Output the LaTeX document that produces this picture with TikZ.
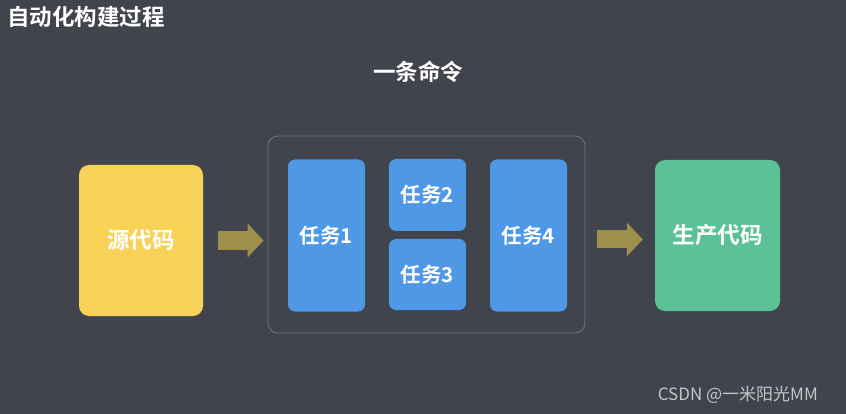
\documentclass[tikz,border=0pt]{standalone}
\usepackage{fontspec}
\setmainfont{Noto Sans CJK SC}[BoldFont={Noto Sans CJK SC Bold}]
\usepackage{tikz}
\usetikzlibrary{arrows.meta}

\definecolor{bgcol}{HTML}{41444C}
\definecolor{srccol}{HTML}{F8D157}
\definecolor{taskcol}{HTML}{4F98E6}
\definecolor{outcol}{HTML}{5BC196}
\definecolor{arrowcol}{HTML}{9D904A}
\definecolor{framecol}{HTML}{74767C}
\definecolor{markcol}{HTML}{C4C5C8}

\begin{document}
\begin{tikzpicture}[
		x=1pt, y=-1pt,
		every node/.style={text=white, font=\bfseries\fontsize{22.5}{26}\selectfont, inner sep=0pt},
		bigbox/.style={rectangle, rounded corners=10pt, minimum width=125pt, minimum height=151pt},
		taskbox/.style={rectangle, fill=taskcol, rounded corners=7pt, minimum width=77pt, font=\bfseries\fontsize{20.5}{24}\selectfont},
		flow/.style={arrowcol, line width=18pt, -{Triangle[length=16pt, width=33pt]}}
	]
  \fill[bgcol] (0,0) rectangle (846,414);
  \useasboundingbox (0,0) rectangle (846,414);
  \node (title) [anchor=west] at (7,17) {自动化构建过程};
  \node (cmd_label) at (418,72) {一条命令};
  \node (src) [bigbox, fill=srccol, minimum width=124pt] at (141,240.5) {源代码};
  \node (cmd) [rectangle, draw=framecol, line width=0.8pt, rounded corners=10pt, minimum width=317pt, minimum height=197pt] at (426.5,234.5) {};
  \node (task_1) [taskbox, minimum height=152pt] at (326.5,235.5) {任务1};
  \node (task_2) [taskbox, minimum height=72pt] at (427.5,195) {任务2};
  \node (task_3) [taskbox, minimum height=71pt] at (427.5,274.5) {任务3};
  \node (task_4) [taskbox, minimum height=152pt] at (528.5,235.5) {任务4};
  \node (out) [bigbox, fill=outcol] at (717.5,235.5) {生产代码};
  \node (mark) [anchor=east, text=markcol, font=\fontsize{17}{20}\selectfont] at (818,395) {CSDN @一米阳光MM};
  \draw[flow, shorten <=15pt, shorten >=4pt] (src.east) -- (src.east -| cmd.west);
  \draw[flow, shorten <=12pt, shorten >=12pt] ([yshift=-4pt]out.west -| cmd.east) -- ([yshift=-4pt]out.west);
\end{tikzpicture}
\end{document}
